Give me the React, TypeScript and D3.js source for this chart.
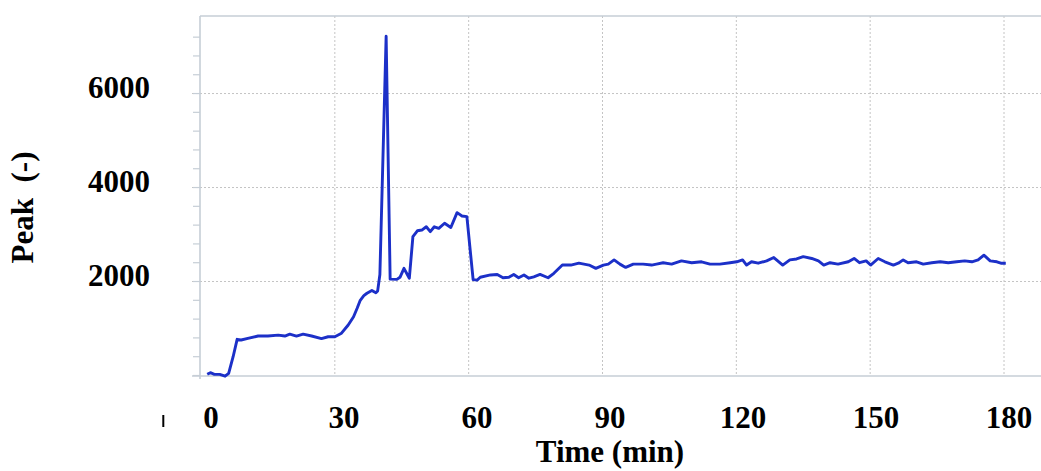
import React from 'react';
import * as d3 from 'd3';

// time (min) and peak readings
const timeMin = [
  1.4, 2.1, 3.0, 4.2, 5.4, 6.2, 7.2, 8.1, 9.0, 10.5, 12.8, 15.0, 17.3, 18.8, 19.9,
  21.4, 22.9, 24.8, 27.0, 28.5, 30.0, 31.5, 33.0, 34.2, 35.0, 35.7, 36.5, 37.2,
  38.3, 39.2, 39.6, 40.1, 41.5, 42.4, 43.9, 44.6, 45.5, 46.3, 46.7, 47.5, 48.5,
  49.5, 50.5, 51.4, 52.3, 53.3, 54.6, 56.0, 57.4, 58.5, 59.6, 61.0, 61.9, 62.6,
  64.9, 66.4, 67.7, 69.0, 70.1, 71.2, 72.4, 73.5, 74.6, 76.0, 77.8, 79.1, 81.0,
  82.9, 84.7, 87.0, 88.5, 90.2, 91.3, 92.6, 93.9, 95.2, 96.9, 99.1, 101.0, 102.1,
  103.6, 105.5, 107.7, 110.0, 112.2, 114.1, 116.3, 118.6, 120.1, 121.4, 122.3,
  123.4, 124.9, 126.8, 128.4, 130.4, 132.0, 133.5, 135.0, 136.9, 138.4, 139.6,
  141.0, 142.8, 145.1, 146.4, 147.6, 149.1, 150.1, 151.8, 153.3, 155.2, 156.3,
  157.4, 158.5, 160.4, 161.9, 163.8, 165.7, 167.5, 169.4, 171.2, 172.8, 174.2,
  175.5, 176.9, 178.4, 179.3, 180.4,
];

const peak = [
  25, 60, 25, 25, -15, 45, 400, 770, 755, 790, 840, 840, 860, 840, 880,
  840, 880, 840, 785, 825, 825, 900, 1075, 1250, 1430, 1600, 1700, 1750,
  1810, 1760, 1800, 2150, 7220, 2050, 2045, 2090, 2280, 2140, 2070, 2955, 3080,
  3095, 3165, 3060, 3165, 3130, 3240, 3150, 3465, 3395, 3380, 2040, 2030, 2090,
  2140, 2150, 2080, 2090, 2150, 2080, 2140, 2070, 2100, 2150, 2080, 2175, 2350,
  2350, 2390, 2350, 2280, 2350, 2370, 2460, 2370, 2300, 2370, 2370, 2350, 2370,
  2400, 2370, 2440, 2400, 2420, 2370, 2370, 2400, 2420, 2460, 2350,
  2420, 2390, 2440, 2510, 2350, 2460, 2480, 2530, 2490, 2440, 2350,
  2400, 2370, 2420, 2490, 2400, 2440, 2350, 2490, 2420, 2350, 2390,
  2460, 2400, 2420, 2370, 2400, 2420, 2400, 2420, 2440, 2420, 2460,
  2560, 2440, 2420, 2390, 2390,
];

const xTicks = [0, 30, 60, 90, 120, 150, 180];
const yLabels = [2000, 4000, 6000];
const yMinor = d3.range(0, 7600, 400);

const W = 1041;
const H = 471;
const font = '"Liberation Serif", "Times New Roman", serif';

export default function App() {
  const x = d3.scaleLinear().domain([0, 180]).range([201, 1004]);
  const y = d3.scaleLinear().domain([0, 7650]).range([375.5, 16]);
  // the tick labels were pasted on a little to the right of the grid
  const xl = d3.scaleLinear().domain([0, 180]).range([211, 1009]);

  const pts: [number, number][] = timeMin.map((t, i) => [t, peak[i]]);
  const line = d3.line<[number, number]>()
    .x(d => x(d[0]))
    .y(d => y(d[1]));

  const frame = '#c6ced6';
  const grid = '#c4c4c4';

  return (
    <svg width={W} height={H} style={{ position: 'absolute', left: 0, top: 0, background: '#fff' }}>
      {/* grid */}
      {yLabels.map(v => (
        <line key={'gy' + v} x1={192} x2={W} y1={y(v)} y2={y(v)}
          stroke={grid} strokeWidth={1} strokeDasharray="2 2" />
      ))}
      {xTicks.slice(1).map(t => (
        <line key={'gx' + t} x1={x(t)} x2={x(t)} y1={16} y2={376}
          stroke={grid} strokeWidth={1} strokeDasharray="2 2" />
      ))}

      {/* frame */}
      <line x1={200} x2={W} y1={16} y2={16} stroke={frame} strokeWidth={1.6} />
      <line x1={200} x2={200} y1={16} y2={379} stroke={frame} strokeWidth={1.6} />
      <line x1={192} x2={W} y1={376} y2={376} stroke={frame} strokeWidth={1.6} />
      {yMinor.map(v => (
        <line key={'ty' + v} x1={193} x2={200} y1={y(v)} y2={y(v)} stroke={frame} strokeWidth={1.2} />
      ))}

      {/* data */}
      <path d={line(pts) || ''} fill="none" stroke="#1c30c8" strokeWidth={2.9} strokeLinejoin="round" />

      {/* labels */}
      <g fontFamily={font} fontWeight="bold" fontSize={31} fill="#000">
        {yLabels.map(v => (
          <text key={'ly' + v} x={150} y={y(v) + 4} textAnchor="end">{v}</text>
        ))}
        {xTicks.map(t => (
          <text key={'lx' + t} x={xl(t)} y={428} textAnchor="middle">{t}</text>
        ))}
        <text x={610} y={462} textAnchor="middle">Time (min)</text>
        <text transform="translate(33,207.5) rotate(-90)" textAnchor="middle"
          style={{ whiteSpace: 'pre' }}>Peak  (-)</text>
      </g>
      <line x1={163.3} x2={163.3} y1={415} y2={427} stroke="#000" strokeWidth={2} />
    </svg>
  );
}
